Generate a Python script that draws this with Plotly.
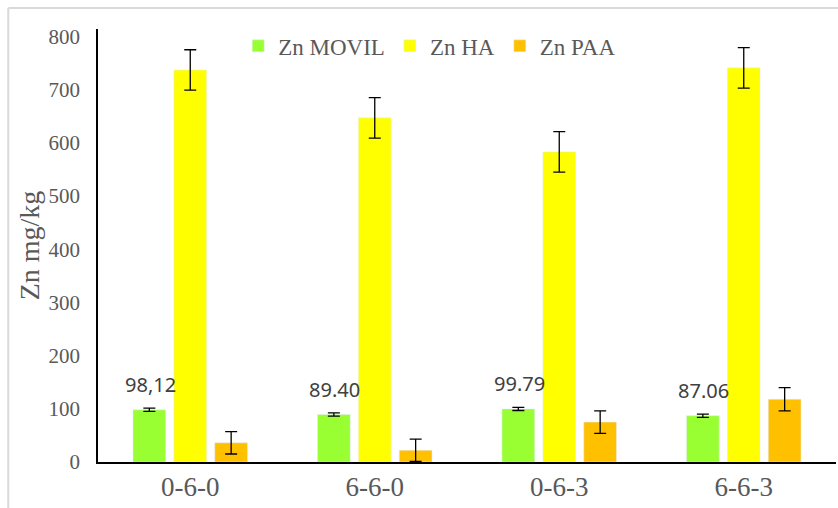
import plotly.graph_objects as go

categories = ["0-6-0", "6-6-0", "0-6-3", "6-6-3"]
zn_movil = [98.12, 89.40, 99.79, 87.06]
zn_movil_err = [3, 3, 3, 3]
zn_ha = [737, 647, 583, 741]
zn_ha_err = [38, 38, 38, 38]
zn_paa = [36, 22, 75, 118]
zn_paa_err = [21, 21, 21, 22]
movil_labels = ["98,12", "89.40", "99.79", "87.06"]
y_ticks = [0, 100, 200, 300, 400, 500, 600, 700, 800]

serif = "Liberation Serif, Times New Roman, serif"
err_style = dict(type="data", visible=True, color="black", thickness=1.3, width=6)

fig = go.Figure()
fig.add_trace(go.Bar(name="Zn MOVIL", x=categories, y=zn_movil, marker_color="#99FF33",
                     error_y=dict(array=zn_movil_err, **err_style)))
fig.add_trace(go.Bar(name="Zn HA", x=categories, y=zn_ha, marker_color="#FFFF00",
                     error_y=dict(array=zn_ha_err, **err_style)))
fig.add_trace(go.Bar(name="Zn PAA", x=categories, y=zn_paa, marker_color="#FFC000",
                     error_y=dict(array=zn_paa_err, **err_style)))

for cat, val, lab in zip(categories, zn_movil, movil_labels):
    fig.add_annotation(x=cat, y=val, text=lab, showarrow=False, xshift=-40, yshift=25,
                       yanchor="middle", font=dict(family="Noto Sans", size=20, color="#404040"))

# light gray chart frame
fig.add_shape(type="line", xref="paper", yref="paper", x0=-0.1216, x1=1.01, y0=1.0485, y1=1.0485,
              line=dict(color="#D9D9D9", width=2))
fig.add_shape(type="line", xref="paper", yref="paper", x0=-0.1216, x1=-0.1216, y0=1.0485, y1=-0.2,
              line=dict(color="#D9D9D9", width=2))

fig.update_layout(
    width=838, height=508,
    margin=dict(l=98, r=2, t=29, b=46),
    paper_bgcolor="white", plot_bgcolor="white",
    barmode="group", bargap=0.335, bargroupgap=0.2,
    font=dict(family=serif, color="#595959"),
    showlegend=True,
    legend=dict(orientation="h", x=0.19, xanchor="left", y=0.961, yanchor="middle",
                font=dict(family=serif, size=23, color="#595959"),
                bgcolor="rgba(0,0,0,0)", itemwidth=30, traceorder="normal"),
    xaxis=dict(showline=True, linecolor="black", linewidth=1.5, ticks="",
               tickfont=dict(family=serif, size=27, color="#595959"), showgrid=False),
    yaxis=dict(range=[0, 814], tickvals=y_ticks, showline=True, linecolor="black", linewidth=1.5,
               ticks="", showgrid=False, zeroline=False, ticklabelstandoff=12,
               tickfont=dict(family=serif, size=21, color="#595959"),
               title=dict(text="Zn mg/kg", font=dict(family=serif, size=28, color="#595959"),
                          standoff=1)),
)

fig.write_html("out.html")
